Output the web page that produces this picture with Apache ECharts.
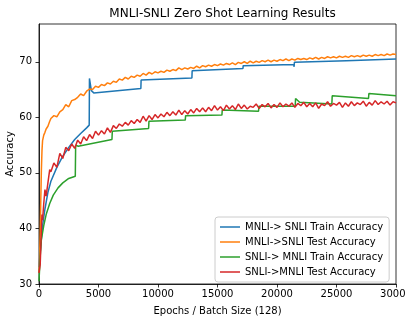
<!DOCTYPE html>
<html>
<head>
<meta charset="utf-8">
<script src="https://cdn.jsdelivr.net/npm/echarts@6/dist/echarts.min.js"></script>
<style>
  html, body { margin: 0; padding: 0; background: #fff; }
  #chart { width: 406px; height: 318px; }
</style>
</head>
<body>
<div id="chart"></div>
<script>
// 图表数据
var seriesNames = [
    'MNLI-> SNLI Train Accuracy',
    'MNLI->SNLI Test Accuracy',
    'SNLI-> MNLI Train Accuracy',
    'SNLI->MNLI Test Accuracy'
];
var seriesColors = ['#1f77b4', '#ff7f0e', '#2ca02c', '#d62728'];

// MNLI -> SNLI train (step curve)
var blueEpochs = [0, 150, 300, 500, 750, 1000, 1500, 2000, 2500, 3000, 3500, 4000, 4220,
    4240, 4400, 4600, 8560, 8580, 12850, 12870, 17140, 17160, 21400, 21440, 21460, 25840, 25860, 30000];
var blueValues = [33.0, 37.0, 40.5, 43.5, 46.5, 48.5, 51.0, 53.0, 54.6, 56.0, 57.1, 58.1, 58.6,
    67.0, 64.8, 64.4, 65.2, 66.7, 67.1, 68.4, 68.8, 69.3, 69.5, 69.1, 69.9, 70.2, 70.5, 70.5];

// SNLI -> MNLI train (step curve)
var greenEpochs = [0, 100, 200, 400, 600, 900, 1200, 1600, 2000, 2500, 3050,
    3080, 3300, 6130, 6160, 9210, 9240, 12290, 12320, 15370, 15400, 18450, 18480,
    21530, 21560, 21900, 24610, 24640, 27690, 27720, 30000];
var greenValues = [30.5, 35.0, 38.0, 40.5, 42.5, 44.5, 46.0, 47.3, 48.2, 49.0, 49.4,
    55.0, 54.8, 56.0, 57.5, 58.0, 59.3, 59.5, 60.3, 60.4, 61.3, 61.1, 62.0,
    62.0, 63.4, 62.7, 62.4, 63.9, 63.4, 64.3, 63.9];

// test curves are sampled on the same epochs
var testEpochs = [0, 50, 100, 150, 200, 250, 300, 400, 500, 600, 750, 900,
    1000, 1250, 1500, 1750, 2000, 2250, 2500, 2750, 3000, 3250, 3500, 3750,
    4000, 4250, 4500, 4750, 5000, 5250, 5500, 5750, 6000, 6250, 6500, 6750,
    7000, 7250, 7500, 7750, 8000, 8250, 8500, 8750, 9000, 9250, 9500, 9750,
    10000, 10250, 10500, 10750, 11000, 11250, 11500, 11750, 12000, 12250, 12500, 12750,
    13000, 13250, 13500, 13750, 14000, 14250, 14500, 14750, 15000, 15250, 15500, 15750,
    16000, 16250, 16500, 16750, 17000, 17250, 17500, 17750, 18000, 18250, 18500, 18750,
    19000, 19250, 19500, 19750, 20000, 20250, 20500, 20750, 21000, 21250, 21500, 21750,
    22000, 22250, 22500, 22750, 23000, 23250, 23500, 23750, 24000, 24250, 24500, 24750,
    25000, 25250, 25500, 25750, 26000, 26250, 26500, 26750, 27000, 27250, 27500, 27750,
    28000, 28250, 28500, 28750, 29000, 29250, 29500, 29750, 30000];

var orangeValues = [32.0, 34.5, 39.0, 45.0, 50.5, 54.0, 55.8, 56.8, 57.3, 57.9, 58.4, 59.3,
    59.8, 60.3, 60.1, 61.0, 61.4, 62.3, 61.9, 63.0, 63.2, 63.6, 64.2, 63.9,
    64.7, 65.1, 65.0, 65.6, 65.4, 65.9, 65.7, 66.2, 66.0, 66.5, 66.3, 66.9,
    66.7, 67.2, 66.9, 67.4, 67.2, 67.6, 67.4, 67.9, 67.6, 68.1, 67.8, 68.2,
    68.0, 68.3, 68.1, 68.5, 68.3, 68.6, 68.4, 68.9, 68.6, 68.9, 68.7, 69.0,
    68.8, 69.2, 68.9, 69.3, 69.1, 69.4, 69.2, 69.5, 69.3, 69.6, 69.4, 69.7,
    69.5, 69.8, 69.5, 69.9, 69.7, 70.0, 69.7, 70.1, 69.8, 70.1, 69.9, 70.2,
    70.0, 70.3, 70.0, 70.3, 70.1, 70.4, 70.2, 70.5, 70.2, 70.5, 70.3, 70.6,
    70.4, 70.6, 70.4, 70.7, 70.5, 70.8, 70.5, 70.8, 70.6, 70.9, 70.7, 70.9,
    70.7, 71.0, 70.8, 71.0, 70.8, 71.1, 70.9, 71.1, 70.9, 71.2, 71.0, 71.2,
    71.0, 71.3, 71.1, 71.3, 71.1, 71.4, 71.2, 71.4, 71.3];

var redValues = [32.0, 31.8, 33.5, 36.5, 40.0, 42.5, 41.5, 44.5, 47.0, 45.8, 48.2, 50.6,
    50.2, 51.8, 51.0, 53.5, 52.6, 54.6, 54.0, 55.2, 54.4, 55.9, 55.2, 56.5,
    55.8, 56.9, 56.2, 57.5, 56.8, 57.6, 57.0, 58.1, 57.3, 58.5, 58.0, 58.8,
    58.4, 59.1, 58.6, 59.4, 58.9, 59.6, 59.1, 60.2, 59.3, 60.3, 59.6, 60.5,
    59.9, 60.6, 60.1, 60.9, 60.3, 61.0, 60.4, 61.3, 60.5, 61.2, 60.6, 61.4,
    60.8, 61.6, 61.0, 61.7, 61.0, 61.8, 61.2, 62.1, 61.3, 61.9, 61.2, 62.2,
    61.5, 62.1, 61.4, 62.4, 61.6, 62.2, 61.5, 62.0, 61.8, 62.4, 61.6, 62.3,
    61.9, 62.5, 61.7, 62.3, 61.8, 62.6, 61.9, 62.4, 62.0, 62.6, 61.8, 62.5,
    62.1, 62.7, 61.9, 62.5, 61.9, 62.6, 61.6, 62.4, 62.1, 62.8, 62.0, 62.5,
    62.2, 62.7, 61.8, 62.6, 62.0, 62.8, 62.1, 62.6, 62.3, 62.9, 62.0, 62.7,
    62.2, 63.0, 62.3, 62.8, 62.4, 62.9, 62.2, 62.8, 62.6];

var yTicks = [30, 40, 50, 60, 70];

function pairs(xs, ys) {
    var out = [];
    xs.forEach(function (x, i) {
        out.push([x, ys[i]]);
    });
    return out;
}

var chartData = [
    pairs(blueEpochs, blueValues),
    pairs(testEpochs, orangeValues),
    pairs(greenEpochs, greenValues),
    pairs(testEpochs, redValues)
];

var fontFamily = 'DejaVu Sans';
var series = [];
var legendData = [];
seriesNames.forEach(function (name, i) {
    series.push({
        name: name,
        type: 'line',
        data: chartData[i],
        symbol: 'none',
        lineStyle: {width: 1.5, color: seriesColors[i]},
        itemStyle: {color: seriesColors[i]}
    });
    legendData.push({name: name, icon: 'rect', itemStyle: {color: seriesColors[i]}});
});

var myChart = echarts.init(document.getElementById('chart'), null, {renderer: 'canvas'});
myChart.setOption({
    animation: false,
    textStyle: {fontFamily: fontFamily, color: '#000'},
    title: {
        text: 'MNLI-SNLI Zero Shot Learning Results',
        left: 217.5,
        textAlign: 'center',
        top: 3,
        textStyle: {fontFamily: fontFamily, fontSize: 12, fontWeight: 'normal', color: '#000'}
    },
    grid: {
        left: 39, right: 10, top: 24, bottom: 34,
        outerBoundsMode: 'none',
        containLabel: false,
        show: true, borderColor: '#000', borderWidth: 0.8
    },
    legend: {
        orient: 'vertical',
        left: 215,
        top: 217,
        data: legendData,
        itemWidth: 20,
        itemHeight: 1.5,
        itemGap: 5,
        padding: [5, 6, 5, 5],
        backgroundColor: 'rgba(255,255,255,0.8)',
        borderColor: '#ccc',
        borderWidth: 1,
        borderRadius: 3,
        textStyle: {fontFamily: fontFamily, fontSize: 10, color: '#000'}
    },
    xAxis: {
        type: 'value',
        min: 0,
        max: 30000,
        interval: 5000,
        name: 'Epochs / Batch Size (128)',
        nameLocation: 'middle',
        nameGap: 22,
        nameMoveOverlap: false,
        nameTextStyle: {fontFamily: fontFamily, fontSize: 10, color: '#000'},
        axisLine: {show: true, onZero: false, lineStyle: {color: '#000', width: 0.8}},
        axisTick: {show: true, length: 3.5, lineStyle: {color: '#000', width: 0.8}},
        axisLabel: {
            fontFamily: fontFamily, fontSize: 10, color: '#000', margin: 5,
            formatter: function (v) { return String(v); }
        },
        splitLine: {show: false}
    },
    yAxis: {
        type: 'value',
        min: 30,
        max: 76.8,
        name: 'Accuracy',
        nameLocation: 'middle',
        nameGap: 24,
        nameMoveOverlap: false,
        nameTextStyle: {fontFamily: fontFamily, fontSize: 10, color: '#000'},
        axisLine: {show: true, lineStyle: {color: '#000', width: 0.8}},
        axisTick: {show: true, length: 3.5, customValues: yTicks, lineStyle: {color: '#000', width: 0.8}},
        axisLabel: {fontFamily: fontFamily, fontSize: 10, color: '#000', margin: 7, customValues: yTicks},
        splitLine: {show: false}
    },
    series: series
});
</script>
</body>
</html>
